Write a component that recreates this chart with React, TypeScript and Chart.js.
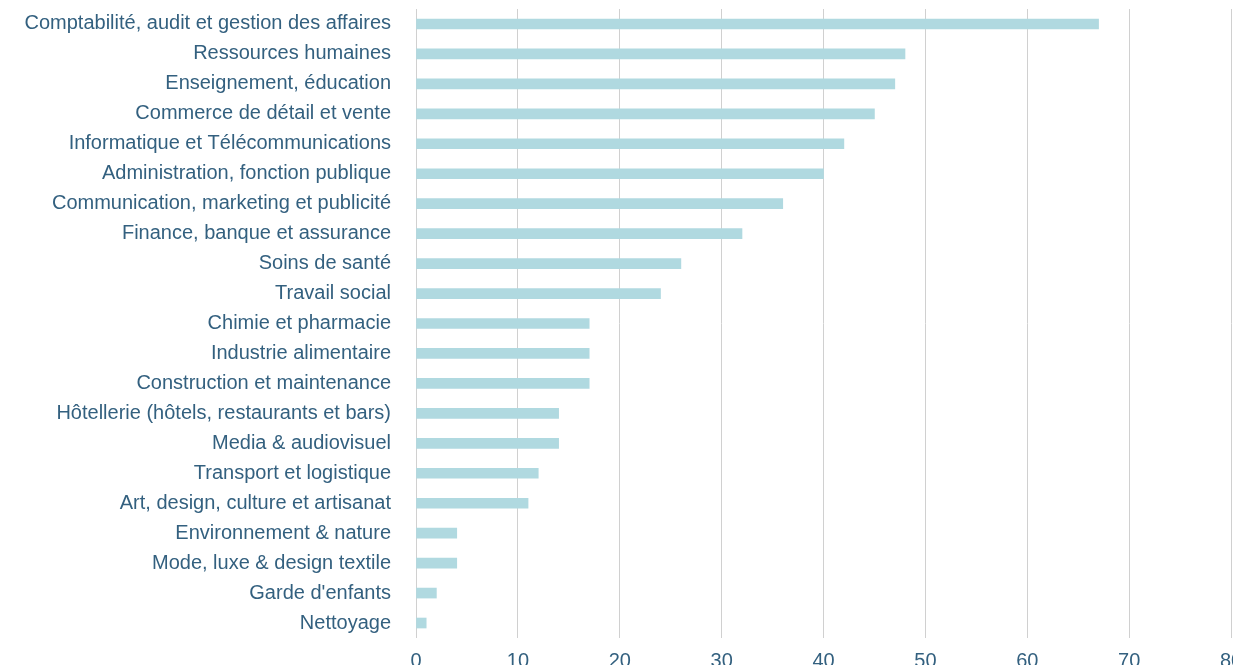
import React, { useEffect, useRef } from "react";
import { Chart, registerables } from "chart.js";

Chart.register(...registerables);

const categories: string[] = [
  "Comptabilité, audit et gestion des affaires",
  "Ressources humaines",
  "Enseignement, éducation",
  "Commerce de détail et vente",
  "Informatique et Télécommunications",
  "Administration, fonction publique",
  "Communication, marketing et publicité",
  "Finance, banque et assurance",
  "Soins de santé",
  "Travail social",
  "Chimie et pharmacie",
  "Industrie alimentaire",
  "Construction et maintenance",
  "Hôtellerie (hôtels, restaurants et bars)",
  "Media & audiovisuel",
  "Transport et logistique",
  "Art, design, culture et artisanat",
  "Environnement & nature",
  "Mode, luxe & design textile",
  "Garde d'enfants",
  "Nettoyage",
];

const values: number[] = [67, 48, 47, 45, 42, 40, 36, 32, 26, 24, 17, 17, 17, 14, 14, 12, 11, 4, 4, 2, 1];

const xTicks: number[] = [0, 10, 20, 30, 40, 50, 60, 70, 80];

const TEXT = "#33607f";
const BAR = "#b0d9e0";
const GRID = "#d0d0d0";
const FONT = { family: "'Liberation Sans', Arial, Helvetica, sans-serif", size: 20 };

export default function App() {
  const ref = useRef<HTMLCanvasElement | null>(null);

  useEffect(() => {
    if (!ref.current) return;
    const chart = new Chart(ref.current, {
      type: "bar",
      data: {
        labels: categories,
        datasets: [
          {
            data: values,
            backgroundColor: BAR,
            borderWidth: 0,
            barThickness: 10,
          },
        ],
      },
      options: {
        indexAxis: "y",
        animation: false,
        responsive: false,
        maintainAspectRatio: false,
        layout: { autoPadding: false, padding: { top: 9, left: 0, right: 11, bottom: 4 } },
        plugins: { legend: { display: false }, tooltip: { enabled: false }, title: { display: false } },
        scales: {
          x: {
            min: xTicks[0],
            max: xTicks[xTicks.length - 1],
            afterBuildTicks: (scale: any) => {
              scale.ticks = xTicks.map((v) => ({ value: v }));
            },
            afterFit: (scale: any) => {
              scale.paddingLeft = 0;
              scale.paddingRight = 0;
            },
            grid: { color: GRID, lineWidth: 1, drawTicks: false },
            border: { display: false },
            ticks: { color: TEXT, font: FONT, padding: 11, maxRotation: 0, autoSkip: false },
          },
          y: {
            afterFit: (scale: any) => {
              scale.width = 416;
              scale.paddingTop = 0;
              scale.paddingBottom = 0;
            },
            grid: { display: false, drawTicks: false },
            border: { display: false },
            ticks: { color: TEXT, font: FONT, padding: 25, autoSkip: false },
          },
        },
      },
    });
    return () => chart.destroy();
  }, []);

  return (
    <div
      style={{
        position: "fixed",
        left: 0,
        top: 0,
        width: 1233,
        height: 665,
        overflow: "hidden",
        background: "#fff",
      }}
    >
      <canvas ref={ref} width={1242} height={688} style={{ width: 1242, height: 688, display: "block" }} />
    </div>
  );
}
